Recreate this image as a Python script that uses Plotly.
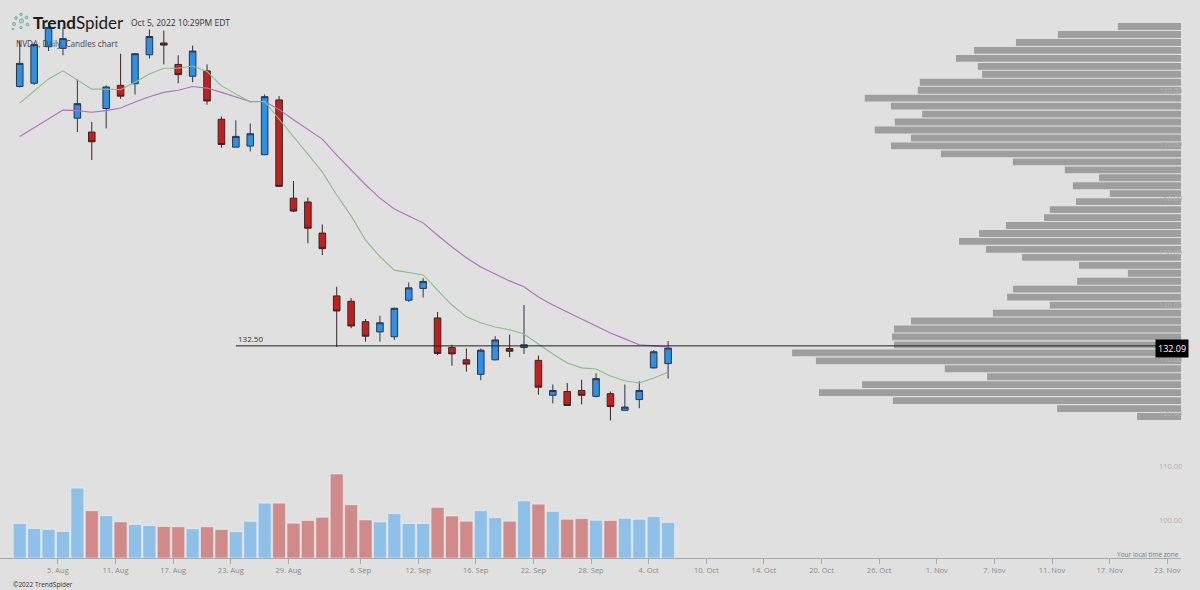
import plotly.graph_objects as go

# ---------------- data ----------------
dates = ["2022-08-02", "2022-08-03", "2022-08-04", "2022-08-05", "2022-08-08", "2022-08-09",
         "2022-08-10", "2022-08-11", "2022-08-12", "2022-08-15", "2022-08-16", "2022-08-17",
         "2022-08-18", "2022-08-19", "2022-08-22", "2022-08-23", "2022-08-24", "2022-08-25",
         "2022-08-26", "2022-08-29", "2022-08-30", "2022-08-31", "2022-09-01", "2022-09-02",
         "2022-09-06", "2022-09-07", "2022-09-08", "2022-09-09", "2022-09-12", "2022-09-13",
         "2022-09-14", "2022-09-15", "2022-09-16", "2022-09-19", "2022-09-20", "2022-09-21",
         "2022-09-22", "2022-09-23", "2022-09-26", "2022-09-27", "2022-09-28", "2022-09-29",
         "2022-09-30", "2022-10-03", "2022-10-04", "2022-10-05"]

future_dates = ["2022-10-06", "2022-10-07", "2022-10-10", "2022-10-11", "2022-10-12", "2022-10-13",
                "2022-10-14", "2022-10-17", "2022-10-18", "2022-10-19", "2022-10-20", "2022-10-21",
                "2022-10-24", "2022-10-25", "2022-10-26", "2022-10-27", "2022-10-28", "2022-10-31",
                "2022-11-01", "2022-11-02", "2022-11-03", "2022-11-04", "2022-11-07", "2022-11-08",
                "2022-11-09", "2022-11-10", "2022-11-11", "2022-11-14", "2022-11-15", "2022-11-16",
                "2022-11-17", "2022-11-18", "2022-11-21", "2022-11-22", "2022-11-23"]

opens = [180.8, 181.4, 188.2, 187.9, 174.9, 172.3, 176.7, 181.0, 181.3, 186.7, 188.9, 184.9,
         182.7, 183.7, 174.7, 169.5, 169.7, 168.1, 178.3, 160.0, 159.3, 153.5, 141.8, 140.8,
         137.0, 135.1, 134.2, 141.0, 143.2, 137.7, 132.2, 129.9, 127.2, 129.9, 132.0, 132.2,
         129.8, 123.3, 124.0, 124.2, 123.1, 123.6, 120.5, 122.5, 128.4, 129.2]
highs = [189.4, 189.0, 192.7, 191.8, 182.1, 174.2, 181.0, 186.9, 187.0, 191.4, 191.2, 186.6,
         188.4, 184.9, 175.2, 174.5, 173.9, 179.3, 179.0, 163.2, 160.1, 155.1, 143.5, 141.4,
         137.5, 138.1, 139.6, 144.3, 145.1, 138.8, 132.7, 132.0, 132.0, 134.3, 134.6, 140.1,
         130.7, 125.3, 125.6, 126.2, 127.4, 124.0, 125.3, 125.9, 131.7, 133.4]
lows = [180.6, 181.1, 187.4, 186.6, 172.3, 167.1, 173.0, 178.5, 179.3, 186.0, 184.9, 181.4,
        181.6, 177.4, 169.4, 169.5, 168.7, 168.0, 162.1, 157.4, 151.6, 149.4, 132.3, 135.8,
        133.3, 133.3, 133.6, 140.7, 141.5, 130.8, 128.8, 127.7, 126.1, 129.8, 130.4, 131.0,
        123.4, 121.8, 121.4, 121.6, 122.9, 118.6, 120.5, 120.9, 128.3, 126.4]
closes = [185.1, 188.6, 191.8, 189.7, 177.6, 170.5, 180.7, 179.0, 186.9, 190.1, 188.5, 183.0,
          187.4, 178.1, 170.0, 171.5, 172.0, 178.9, 162.2, 157.6, 154.4, 150.6, 139.0, 136.2,
          134.3, 136.8, 139.5, 143.3, 144.5, 131.1, 131.0, 129.1, 131.7, 133.6, 131.5, 132.7,
          124.8, 124.2, 121.4, 123.3, 126.4, 121.2, 121.1, 124.2, 131.4, 132.09]
volumes_m = [46.2, 39.6, 38.3, 35.6, 93.7, 63.4, 56.8, 48.4, 44.9, 43.6, 42.2, 41.8,
             39.2, 41.8, 38.3, 35.2, 49.3, 73.5, 73.5, 46.6, 50.2, 54.6, 112.6, 71.3,
             51.0, 48.4, 59.4, 46.2, 46.2, 67.8, 56.3, 49.3, 63.4, 54.1, 49.3, 76.6,
             72.2, 62.5, 51.9, 52.8, 50.6, 50.2, 53.2, 51.9, 55.4, 47.5]
fast_ma = [177.7, 180.0, 182.2, 183.7, 182.0, 180.3, 180.3, 180.2, 181.6, 183.1, 184.2, 184.2,
           184.6, 183.6, 180.9, 179.4, 177.9, 178.0, 174.7, 171.3, 168.0, 164.9, 160.6, 156.7,
           152.2, 149.1, 146.6, 146.1, 145.7, 142.9, 140.1, 137.9, 136.8, 136.0, 135.5, 134.7,
           132.8, 131.0, 129.3, 128.4, 128.2, 126.9, 126.0, 125.6, 126.5, 127.6]
slow_ma = [171.5, 173.1, 174.8, 176.4, 176.3, 176.0, 176.3, 176.8, 177.9, 178.9, 179.7, 180.1,
           180.8, 180.5, 179.7, 178.8, 178.0, 178.0, 176.5, 174.6, 172.8, 171.0, 168.0, 165.3,
           162.5, 160.0, 158.0, 156.7, 155.4, 153.1, 150.9, 148.9, 147.2, 145.9, 144.6, 143.5,
           141.6, 140.1, 138.8, 137.4, 136.2, 134.9, 133.8, 132.7, 132.5, 132.3]
# volume-at-price profile, from the highest bin down to the lowest (millions)
profile_volume_m = [16.4, 32.0, 42.9, 53.8, 58.5, 52.8, 51.7, 67.9, 68.4, 82.2, 75.4, 67.3,
                    74.4, 79.6, 70.2, 75.4, 62.4, 43.7, 30.2, 21.3, 28.1, 18.5, 27.3, 34.1,
                    35.6, 45.5, 52.5, 57.7, 50.7, 41.3, 26.5, 13.8, 27.0, 43.7, 45.2, 34.1,
                    48.9, 70.2, 74.6, 75.1, 74.6, 101.1, 94.9, 61.4, 50.4, 82.9, 94.1, 74.9,
                    32.2, 11.4]

tick_dates = ["2022-08-05", "2022-08-11", "2022-08-17", "2022-08-23", "2022-08-29", "2022-09-06",
              "2022-09-12", "2022-09-16", "2022-09-22", "2022-09-28", "2022-10-04", "2022-10-10",
              "2022-10-14", "2022-10-20", "2022-10-26", "2022-11-01", "2022-11-07", "2022-11-11",
              "2022-11-17", "2022-11-23"]
tick_text = ["5. Aug", "11. Aug", "17. Aug", "23. Aug", "29. Aug", "6. Sep", "12. Sep", "16. Sep",
             "22. Sep", "28. Sep", "4. Oct", "10. Oct", "14. Oct", "20. Oct", "26. Oct", "1. Nov",
             "7. Nov", "11. Nov", "17. Nov", "23. Nov"]
price_ticks = [100, 110, 120, 130, 140, 150, 160, 170, 180]

level_price = 132.50
level_start = "2022-08-23"
last_price = closes[-1]

# ---------------- layout constants ----------------
W, H = 1200, 590
PL, PR = 0, 1181          # plot area in px
PT, PB = 0, 558
x_range = [-1.37, 80.6]
y_range = [93.0, 196.9]
vol_axis_max = 748.0
profile_axis_max = 307.0

all_dates = dates + future_dates
xi = [all_dates.index(d) for d in dates]
tick_x = [all_dates.index(d) - 0.35 for d in tick_dates]

BG = "#e0e0e0"
UP_FILL, DN_FILL = "#2e8fe4", "#c21f1f"
UP_VOL, DN_VOL = "#8fc0e8", "#cf8a89"


def px_x(px):
    return (px - PL) / (PR - PL)


def px_y(py):
    return 1 - (py - PT) / (PB - PT)


fig = go.Figure()

# volume profile (horizontal bars from the right edge)
n_bins = len(profile_volume_m)
p_lo, p_hi = min(lows), max(highs)
bin_size = (p_hi - p_lo) / n_bins
bin_centers = [p_hi - bin_size * (k + 0.5) for k in range(n_bins)]
fig.add_trace(go.Bar(
    x=profile_volume_m, y=bin_centers, orientation="h", width=bin_size * 0.86,
    marker=dict(color="#9e9e9e", line=dict(width=0)),
    xaxis="x2", yaxis="y", hoverinfo="skip", showlegend=False))

# volume bars
vol_colors = [UP_VOL if c >= o else DN_VOL for o, c in zip(opens, closes)]
fig.add_trace(go.Bar(
    x=xi, y=volumes_m, width=0.9,
    marker=dict(color=vol_colors, line=dict(color="rgba(255,255,255,0.45)", width=1)),
    xaxis="x", yaxis="y2", hoverinfo="skip", showlegend=False))

# moving averages
fig.add_trace(go.Scatter(x=xi, y=slow_ma, mode="lines", line=dict(color="#b46cc6", width=1.1),
                         showlegend=False, hoverinfo="skip"))
fig.add_trace(go.Scatter(x=xi, y=fast_ma, mode="lines", line=dict(color="#86c086", width=1.1),
                         showlegend=False, hoverinfo="skip"))

# candles
fig.add_trace(go.Candlestick(
    x=xi, open=opens, high=highs, low=lows, close=closes,
    increasing=dict(fillcolor=UP_FILL, line=dict(color="#2d3440", width=1)),
    decreasing=dict(fillcolor=DN_FILL, line=dict(color="#3a2525", width=1)),
    whiskerwidth=0, showlegend=False))

# horizontal level line
fig.add_shape(type="line", xref="x", yref="y", x0=all_dates.index(level_start), x1=x_range[1],
              y0=level_price, y1=level_price, line=dict(color="#1e1e1e", width=1), layer="above")

# logo dots
logo_dots = [(14, 24, 1.6), (16, 18, 1.4), (21, 14.5, 1.3), (21.5, 21, 2.2), (26.5, 17.5, 1.4),
             (27.5, 24.5, 1.5), (21, 27.5, 1.3), (13, 29, 1.0)]
for cx, cy, r in logo_dots:
    fig.add_shape(type="circle", xref="paper", yref="paper",
                  x0=px_x(cx - r), x1=px_x(cx + r), y0=px_y(cy + r), y1=px_y(cy - r),
                  line=dict(color="#63ad9d", width=0.8), fillcolor="rgba(99,173,157,0.35)")

annotations = [
    dict(text="<b>Trend</b>Spider", x=px_x(31), y=px_y(22), xref="paper", yref="paper",
         xanchor="left", yanchor="middle", showarrow=False,
         font=dict(family="Lato", size=17, color="#1b1b1b")),
    dict(text="Oct 5, 2022 10:29PM EDT", x=px_x(129), y=px_y(22.5), xref="paper", yref="paper",
         xanchor="left", yanchor="middle", showarrow=False,
         font=dict(family="Open Sans", size=8.5, color="#333333")),
    dict(text="NVDA, Daily, Candles chart", x=px_x(14), y=px_y(43), xref="paper", yref="paper",
         xanchor="left", yanchor="middle", showarrow=False,
         font=dict(family="Open Sans", size=8.2, color="#444444")),
    dict(text=f"{level_price:.2f}", x=all_dates.index(level_start), y=level_price, xref="x",
         yref="y", xanchor="left", yanchor="bottom", showarrow=False, yshift=0,
         font=dict(family="Open Sans", size=8, color="#333333")),
    dict(text=f"{last_price:.2f}", x=px_x(1172), y=last_price, xref="paper", yref="y",
         xanchor="center", yanchor="middle", showarrow=False, bgcolor="#000000", borderpad=2,
         font=dict(family="Open Sans", size=9, color="#ffffff")),
    dict(text="Your local time zone", x=px_x(1181), y=px_y(554), xref="paper", yref="paper",
         xanchor="right", yanchor="middle", showarrow=False,
         font=dict(family="Open Sans", size=6.5, color="#7a7a7a")),
    dict(text="©2022 TrendSpider", x=px_x(11), y=px_y(584), xref="paper", yref="paper",
         xanchor="left", yanchor="middle", showarrow=False,
         font=dict(family="Open Sans", size=6.5, color="#333333")),
]

fig.update_layout(
    width=W, height=H,
    margin=dict(l=PL, r=W - PR, t=PT, b=H - PB),
    paper_bgcolor=BG, plot_bgcolor=BG,
    boxgap=0.35,
    showlegend=False,
    hovermode=False,
    annotations=annotations,
    xaxis=dict(range=x_range, tickmode="array", tickvals=tick_x, ticktext=tick_text,
               showgrid=False, zeroline=False, showline=True, linecolor="#a8a8a8", linewidth=1,
               ticks="outside", ticklen=5, tickcolor="#a8a8a8", ticklabeloverflow="allow",
               tickfont=dict(family="Open Sans", size=7.5, color="#8a8a8a"),
               rangeslider=dict(visible=False), fixedrange=True),
    xaxis2=dict(range=[profile_axis_max, 0], overlaying="x", anchor="y", visible=False,
                fixedrange=True),
    yaxis=dict(range=y_range, side="right", tickmode="array", tickvals=price_ticks,
               tickformat=".2f", ticklabelposition="outside", ticklabelstandoff=-23, ticks="",
               showgrid=False, zeroline=False, showline=False,
               tickfont=dict(family="Open Sans", size=7.5, color="#b2b2b2"), fixedrange=True),
    yaxis2=dict(range=[0, vol_axis_max], overlaying="y", visible=False, fixedrange=True),
)

fig.write_html("out.html")
